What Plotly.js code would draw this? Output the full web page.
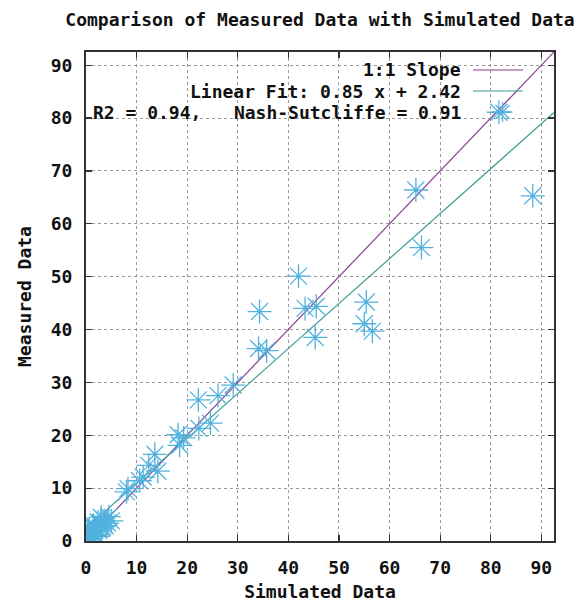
<!DOCTYPE html>
<html>
<head>
<meta charset="utf-8">
<script src="https://cdn.plot.ly/plotly-3.0.1.min.js"></script>
<style>html,body{margin:0;padding:0;background:#fff;}</style>
</head>
<body>
<div id="chart" style="width:581px;height:602px;"></div>
<script>
// ---- data ----
const simulated = [81.6, 88.3, 65.2, 66.3, 42.0, 34.3, 43.3, 45.5, 45.3, 34.1, 35.7, 55.4, 55.0, 56.6,
  29.1, 26.1, 22.2, 24.6, 22.3, 18.2, 19.3, 18.5, 13.6, 12.4, 14.2, 11.3, 10.6, 8.3, 8.0,
  0.2, 0.5, 1.0, 1.2, 1.8, 2.0, 2.6, 2.8, 3.3, 3.6, 4.2, 3.0, 0.6, 1.5, 4.5, 2.2, 0.3, 5.0,
  2.4, 3.1, 1.7, 3.8, 2.9];
const measured = [81.1, 65.3, 66.4, 55.5, 50.1, 43.4, 44.0, 44.4, 38.5, 36.4, 36.0, 45.2, 41.1, 39.7,
  29.5, 27.5, 26.7, 22.3, 21.3, 20.1, 19.5, 18.1, 16.4, 14.3, 13.2, 12.1, 11.4, 9.9, 9.3,
  0.3, 1.0, 0.6, 1.8, 1.2, 2.6, 2.0, 3.2, 2.7, 3.9, 3.4, 4.5, 2.2, 3.0, 4.6, 0.9, 1.5, 3.8,
  3.6, 2.4, 2.4, 2.9, 3.5];
const axisRange = [0, 92.5];
const fitSlope = 0.85;
const fitIntercept = 2.42;
const tickVals = [0, 10, 20, 30, 40, 50, 60, 70, 80, 90];
const titleText = 'Comparison of Measured Data with Simulated Data';
const xTitle = 'Simulated Data';
const yTitle = 'Measured Data';
const legendTexts = ['1:1 Slope', 'Linear Fit: 0.85 x + 2.42', 'R2 = 0.94,\u00A0\u00A0\u00A0Nash-Sutcliffe = 0.91'];

// ---- styles ----
const C_ONE = '#8a3f94';
const C_FIT = '#3e9e94';
const C_PT = '#52b2de';
const FONT = 'DejaVu Sans Mono, Liberation Mono, monospace';
const tf = {family: FONT, size: 18, weight: 'bold', color: '#111'};

const lineX = [axisRange[0], axisRange[1]];
const traces = [
  {x: lineX, y: lineX, mode: 'lines', line: {color: C_ONE, width: 1.2}, hoverinfo: 'skip'},
  {x: lineX, y: lineX.map(v => fitSlope * v + fitIntercept), mode: 'lines', line: {color: C_FIT, width: 1.2}, hoverinfo: 'skip'},
  {x: simulated, y: measured, mode: 'markers',
   marker: {symbol: 'asterisk-open', size: 20, color: C_PT, line: {color: C_PT, width: 1.3}}}
];

function axis(titleTxt, standoff, tls) {
  return {
    range: axisRange, tickvals: tickVals, ticktext: tickVals.map(String),
    ticks: 'inside', ticklen: 6, tickwidth: 1.2, tickcolor: '#333',
    showline: true, linecolor: '#333', linewidth: 2, mirror: 'ticks',
    showgrid: true, gridcolor: '#9a9a9a', gridwidth: 1, griddash: '3px,3px',
    zeroline: false, tickfont: tf, ticklabelstandoff: tls,
    title: {text: titleTxt, font: tf, standoff: standoff}
  };
}

const rowY = [0.9632, 0.9202, 0.8773];
const annotations = legendTexts.map((t, i) => ({
  text: t, xref: 'paper', yref: 'paper', x: 0.803, y: rowY[i],
  xanchor: 'right', yanchor: 'middle', showarrow: false, font: tf, borderpad: 0
}));

const shapes = [
  {type: 'line', xref: 'paper', yref: 'paper', x0: 0.827, x1: 0.934, y0: rowY[0], y1: rowY[0], line: {color: C_ONE, width: 1.2}},
  {type: 'line', xref: 'paper', yref: 'paper', x0: 0.827, x1: 0.934, y0: rowY[1], y1: rowY[1], line: {color: C_FIT, width: 1.2}},
  {type: 'path', xref: 'paper', yref: 'paper', xsizemode: 'pixel', ysizemode: 'pixel',
   xanchor: 0.89, yanchor: rowY[2],
   path: 'M-10,0L10,0M0,-10L0,10M-7,-7L7,7M-7,7L7,-7', line: {color: C_PT, width: 1.3}}
];

const layout = {
  width: 581, height: 602,
  margin: {l: 86, r: 27, t: 52, b: 61},
  paper_bgcolor: '#fff', plot_bgcolor: '#fff',
  showlegend: false,
  title: {text: titleText, font: tf,
          xref: 'paper', x: 0.5, xanchor: 'center', yref: 'container', y: 0.967, yanchor: 'middle'},
  xaxis: axis(xTitle, 10, 9),
  yaxis: axis(yTitle, 14, 8),
  annotations: annotations,
  shapes: shapes
};

Plotly.newPlot('chart', traces, layout, {displayModeBar: false, staticPlot: true});
</script>
</body>
</html>
